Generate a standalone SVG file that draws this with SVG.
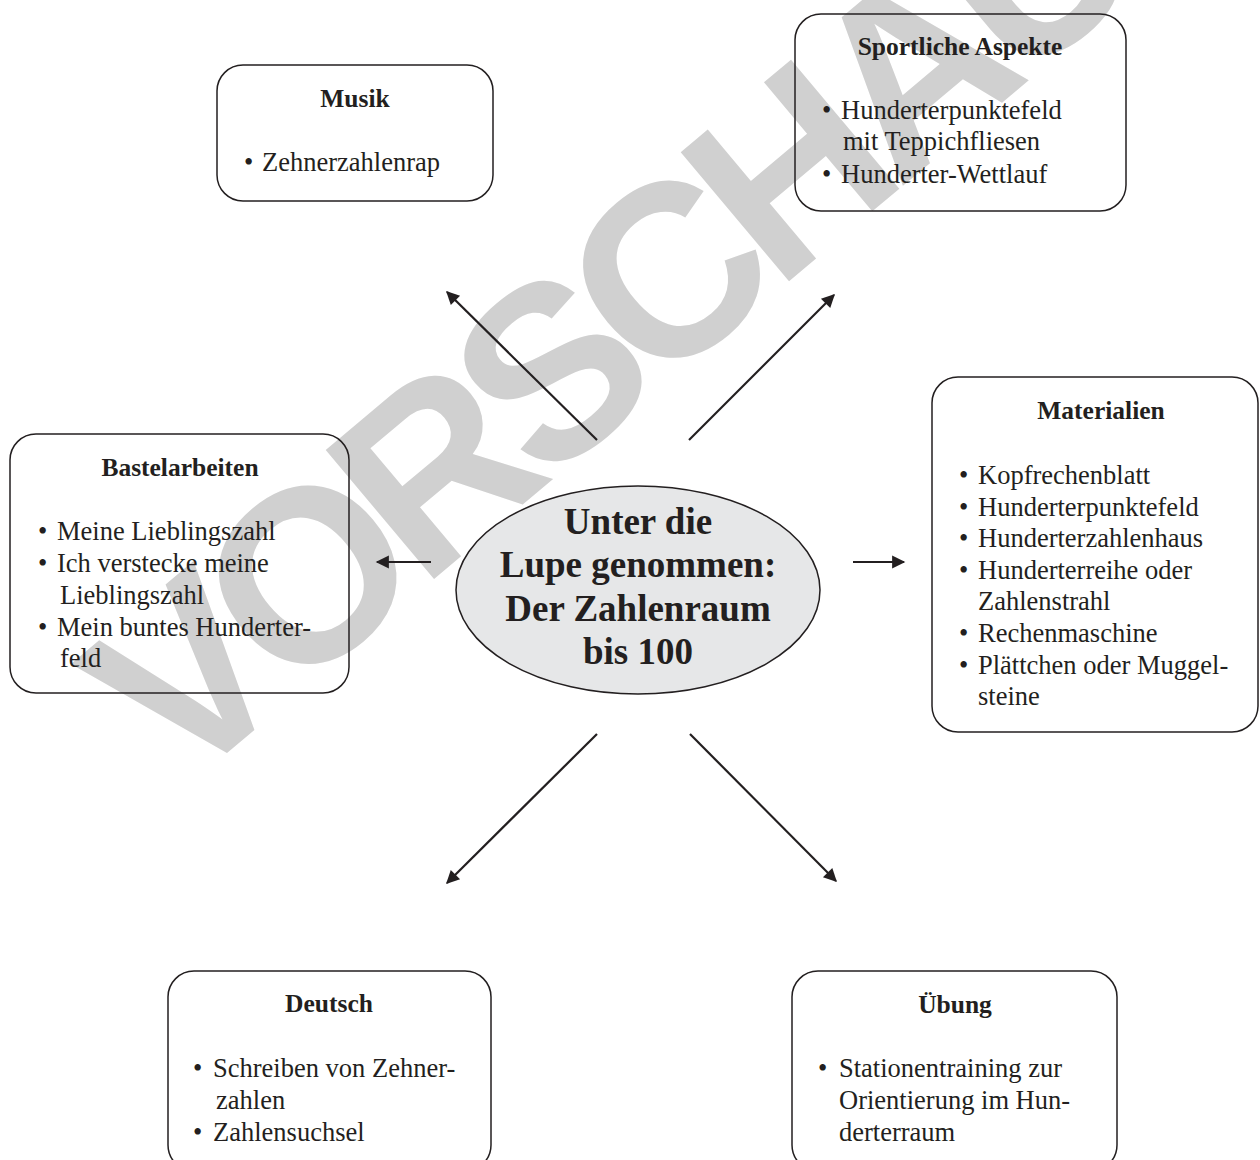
<svg xmlns="http://www.w3.org/2000/svg" width="1260" height="1160" viewBox="0 0 1260 1160">
  <defs>
    <marker id="ah" viewBox="0 0 10 10" refX="9" refY="5" markerWidth="8.5" markerHeight="6" markerUnits="strokeWidth" orient="auto">
      <path d="M0,0 L10,5 L0,10 z" fill="#231f20"/>
    </marker>
    <style>
      .box { fill: none; stroke: #231f20; stroke-width: 1.5; }
      .t { font-family: "Liberation Serif", "Times New Roman", serif; fill: #231f20; }
      .title { font-size: 25.5px; font-weight: bold; text-anchor: middle; }
      .item { font-size: 26.5px; }
      .center { font-size: 37px; font-weight: bold; text-anchor: middle; }
      .conn { stroke: #231f20; stroke-width: 2.2; fill: none; marker-end: url(#ah); }
      .wm { font-family: "Liberation Sans", Arial, sans-serif; font-weight: bold; font-size: 245px; letter-spacing: -18px; fill: #d0d0d0; }
    </style>
  </defs>
  <rect width="1260" height="1160" fill="#ffffff"/>

  <g id="watermark">
    <text class="wm" transform="translate(178,794) rotate(-40)">VORSCHAU</text>
  </g>

  <g id="connectors">
    <line class="conn" x1="597" y1="440" x2="447" y2="292"/>
    <line class="conn" x1="689" y1="440" x2="834" y2="295"/>
    <line class="conn" x1="431" y1="562" x2="377" y2="562"/>
    <line class="conn" x1="853" y1="562" x2="904" y2="562"/>
    <line class="conn" x1="597" y1="734" x2="447" y2="883"/>
    <line class="conn" x1="690" y1="734" x2="836" y2="881"/>
  </g>

  <g id="center">
    <ellipse cx="638" cy="590" rx="182" ry="104" fill="#e6e7e8" stroke="#231f20" stroke-width="1.5"/>
    <text class="t center" x="638" y="534">Unter die</text>
    <text class="t center" x="638" y="577">Lupe genommen:</text>
    <text class="t center" x="638" y="621">Der Zahlenraum</text>
    <text class="t center" x="638" y="664">bis 100</text>
  </g>

  <g id="musik">
    <rect class="box" x="217" y="65" width="276" height="136" rx="26"/>
    <text class="t title" x="355" y="107">Musik</text>
    <text class="t item" x="244" y="171">•</text>
    <text class="t item" x="262" y="171">Zehnerzahlenrap</text>
  </g>

  <g id="sport">
    <rect class="box" x="795" y="14" width="331" height="197" rx="26"/>
    <text class="t title" x="960" y="55">Sportliche Aspekte</text>
    <text class="t item" x="822" y="119">•</text>
    <text class="t item" x="841" y="119">Hunderterpunktefeld</text>
    <text class="t item" x="843" y="150">mit Teppichfliesen</text>
    <text class="t item" x="822" y="183">•</text>
    <text class="t item" x="841" y="183">Hunderter-Wettlauf</text>
  </g>

  <g id="materialien">
    <rect class="box" x="932" y="377" width="326" height="355" rx="26"/>
    <text class="t title" x="1101" y="419">Materialien</text>
    <text class="t item" x="959" y="484">•</text>
    <text class="t item" x="978" y="484">Kopfrechenblatt</text>
    <text class="t item" x="959" y="516">•</text>
    <text class="t item" x="978" y="516">Hunderterpunktefeld</text>
    <text class="t item" x="959" y="547">•</text>
    <text class="t item" x="978" y="547">Hunderterzahlenhaus</text>
    <text class="t item" x="959" y="579">•</text>
    <text class="t item" x="978" y="579">Hunderterreihe oder</text>
    <text class="t item" x="978" y="610">Zahlenstrahl</text>
    <text class="t item" x="959" y="642">•</text>
    <text class="t item" x="978" y="642">Rechenmaschine</text>
    <text class="t item" x="959" y="674">•</text>
    <text class="t item" x="978" y="674">Plättchen oder Muggel-</text>
    <text class="t item" x="978" y="705">steine</text>
  </g>

  <g id="bastelarbeiten">
    <rect class="box" x="10" y="434" width="339" height="259" rx="26"/>
    <text class="t title" x="180" y="476">Bastelarbeiten</text>
    <text class="t item" x="38" y="540">•</text>
    <text class="t item" x="57" y="540">Meine Lieblingszahl</text>
    <text class="t item" x="38" y="572">•</text>
    <text class="t item" x="57" y="572">Ich verstecke meine</text>
    <text class="t item" x="60" y="604">Lieblingszahl</text>
    <text class="t item" x="38" y="636">•</text>
    <text class="t item" x="57" y="636">Mein buntes Hunderter-</text>
    <text class="t item" x="60" y="667">feld</text>
  </g>

  <g id="deutsch">
    <rect class="box" x="168" y="971" width="323" height="200" rx="26"/>
    <text class="t title" x="329" y="1012">Deutsch</text>
    <text class="t item" x="193" y="1077">•</text>
    <text class="t item" x="213" y="1077">Schreiben von Zehner-</text>
    <text class="t item" x="216" y="1109">zahlen</text>
    <text class="t item" x="193" y="1141">•</text>
    <text class="t item" x="213" y="1141">Zahlensuchsel</text>
  </g>

  <g id="uebung">
    <rect class="box" x="792" y="971" width="325" height="200" rx="26"/>
    <text class="t title" x="955" y="1013">Übung</text>
    <text class="t item" x="818" y="1077">•</text>
    <text class="t item" x="839" y="1077">Stationentraining zur</text>
    <text class="t item" x="839" y="1109">Orientierung im Hun-</text>
    <text class="t item" x="839" y="1141">derterraum</text>
  </g>
</svg>
